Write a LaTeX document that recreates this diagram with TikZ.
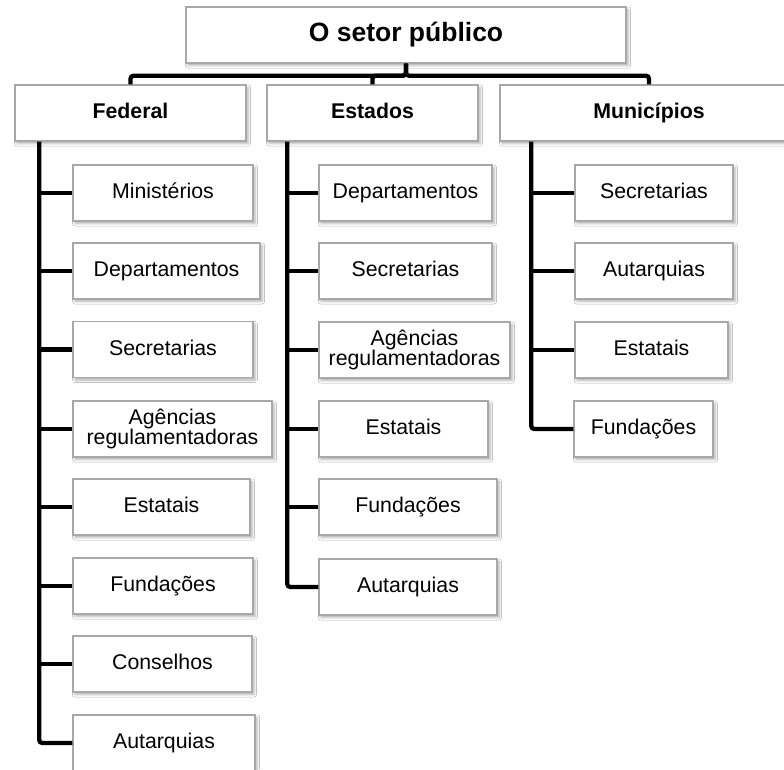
\documentclass[tikz,border=0pt]{standalone}
\usepackage{fontspec}
\setmainfont{Liberation Sans}
\usetikzlibrary{calc,shadows.blur}

\definecolor{boxline}{HTML}{A8A8A8}

\tikzset{
  plainbox/.style={draw=boxline, line width=1.4pt, fill=white, minimum height=56pt,
    inner sep=0pt, align=center, font=\fontsize{21.3}{20.5}\selectfont,
    blur shadow={shadow xshift=2pt, shadow yshift=-2.5pt,
      shadow blur radius=2.5pt, shadow opacity=32}},
  box/.style={plainbox, text height=15.5pt, text depth=4.5pt},
  twoline/.style={plainbox},
  headbox/.style={box, font=\fontsize{21.3}{20.5}\selectfont\bfseries},
  topbox/.style={box, text height=19pt, text depth=6pt,
    font=\fontsize{26.5}{28}\selectfont\bfseries},
  conn/.style={draw=black, line width=4.3pt},
}

\begin{document}
\begin{tikzpicture}[x=1pt, y=-1pt]
  \clip (0,0) rectangle (784,769);
  \fill[white] (0,0) rectangle (784,769);

  % top level
  \node[topbox, minimum width=440pt] (top) at (406,35) {O setor público};

  % second level
  \node[headbox, minimum width=231pt] (fed) at (130.5,113) {Federal};
  \node[headbox, minimum width=211pt] (est) at (372.5,113) {Estados};
  \node[headbox, minimum width=298pt] (mun) at (649,113) {Municípios};

  % Federal
  \node[box, minimum width=180pt] (f1) at (163,193)   {Ministérios};
  \node[box, minimum width=187pt] (f2) at (166.5,271) {Departamentos};
  \node[box, minimum width=180pt] (f3) at (163,349.5) {Secretarias};
  \node[twoline, minimum width=199pt] (f4) at (172.5,429) {Agências\\regulamentadoras};
  \node[box, minimum width=177pt] (f5) at (161.5,507) {Estatais};
  \node[box, minimum width=180pt] (f6) at (163,586)   {Fundações};
  \node[box, minimum width=179pt] (f7) at (162.5,664) {Conselhos};
  \node[box, minimum width=182pt] (f8) at (164,743)   {Autarquias};

  % Estados
  \node[box, minimum width=173pt] (e1) at (405.5,193) {Departamentos};
  \node[box, minimum width=173pt] (e2) at (405.5,271) {Secretarias};
  \node[twoline, minimum width=191pt] (e3) at (414.5,350) {Agências\\regulamentadoras};
  \node[box, minimum width=169pt] (e4) at (403.5,429) {Estatais};
  \node[box, minimum width=178pt] (e5) at (408,507)   {Fundações};
  \node[box, minimum width=178pt] (e6) at (408,587)   {Autarquias};

  % Municípios
  \node[box, minimum width=158pt] (m1) at (654,193)   {Secretarias};
  \node[box, minimum width=158pt] (m2) at (654,271)   {Autarquias};
  \node[box, minimum width=153pt] (m3) at (651.5,350) {Estatais};
  \node[box, minimum width=139pt] (m4) at (643.5,429) {Fundações};

  % links from the top box
  \draw[conn, rounded corners=3pt] (top.south) -- ++(0,12) -| (fed.north);
  \draw[conn, rounded corners=3pt] (top.south) -- ++(0,12) -| (est.north);
  \draw[conn, rounded corners=3pt] (top.south) -- ++(0,12) -| (mun.north);

  % trunks
  \coordinate (ft) at ($(fed.south west)+(25,0)$);
  \coordinate (et) at ($(est.south west)+(21,0)$);
  \coordinate (mt) at ($(mun.south west)+(32,0)$);

  \draw[conn, rounded corners=3pt] (ft) |- (f8.west);
  \foreach \c in {f1,f2,f3,f4,f5,f6,f7}
    \draw[conn] (ft |- \c.west) -- (\c.west);

  \draw[conn, rounded corners=3pt] (et) |- (e6.west);
  \foreach \c in {e1,e2,e3,e4,e5}
    \draw[conn] (et |- \c.west) -- (\c.west);

  \draw[conn, rounded corners=3pt] (mt) |- (m4.west);
  \foreach \c in {m1,m2,m3}
    \draw[conn] (mt |- \c.west) -- (\c.west);
\end{tikzpicture}
\end{document}
